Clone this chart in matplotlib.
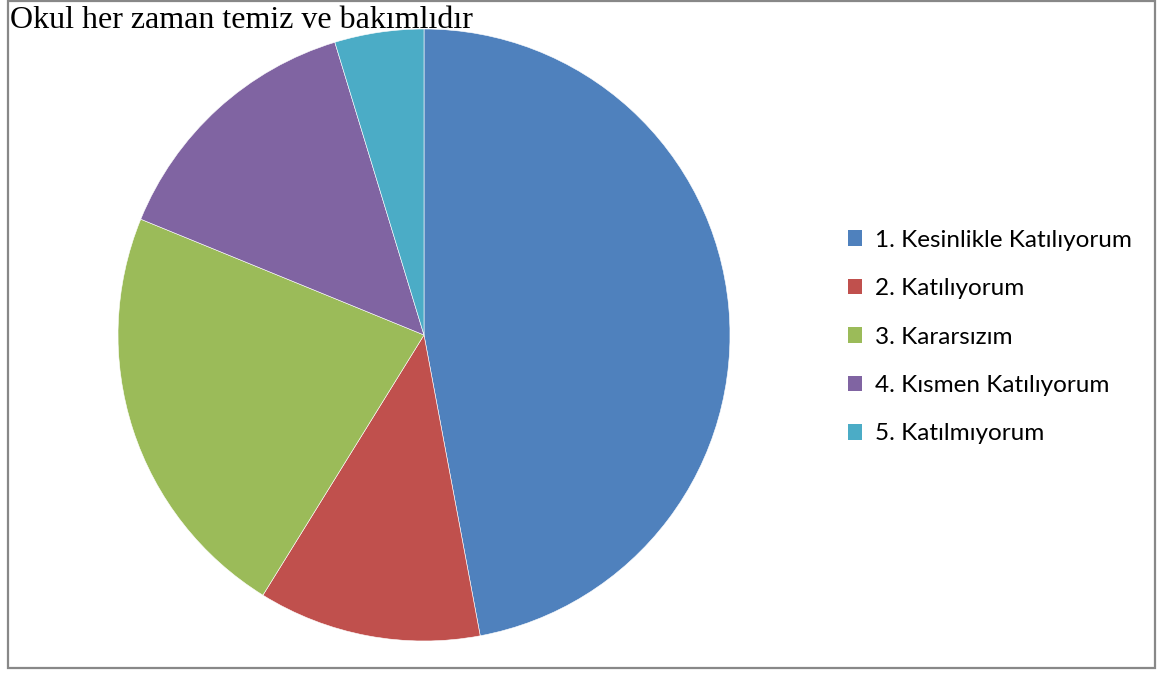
import matplotlib.pyplot as plt
from matplotlib.patches import Rectangle, Patch

labels = ["1. Kesinlikle Katılıyorum", "2. Katılıyorum", "3. Kararsızım",
          "4. Kısmen Katılıyorum", "5. Katılmıyorum"]
counts = [40, 10, 19, 12, 4]
colors = ["#4f81bd", "#c0504d", "#9bbb59", "#8064a2", "#4bacc6"]
title = "Okul her zaman temiz ve bakımlıdır"

W, H = 1158, 675
fig = plt.figure(figsize=(W / 100, H / 100), dpi=100)

# outer chart border
fig.patches.append(Rectangle((8 / W, 7 / H), 1147 / W, 667 / H, transform=fig.transFigure,
                             fill=False, edgecolor="#888888", linewidth=1.6))

# pie area
cx, cy, r = 424, 335, 306
ax = fig.add_axes([(cx - r) / W, (H - cy - r) / H, 2 * r / W, 2 * r / H])
ax.pie(counts, colors=colors, startangle=90, counterclock=False, radius=1,
       wedgeprops=dict(edgecolor="white", linewidth=0.4))
ax.set_xlim(-1, 1)
ax.set_ylim(-1, 1)
ax.set_aspect("equal")
ax.axis("off")

fig.text(10 / W, 1 - 28 / H, title, family="Liberation Serif", fontsize=23,
         ha="left", va="baseline")

handles = [Patch(facecolor=c, edgecolor="none") for c in colors]
fig.legend(handles, labels, loc="center left", bbox_to_anchor=(826 / W, 1 - 337 / H),
           frameon=False, prop={"family": "Lato", "size": 17.5},
           handlelength=0.6, handleheight=0.6, handletextpad=0.5, labelspacing=1.13)

fig.savefig("out.png", dpi=100)
